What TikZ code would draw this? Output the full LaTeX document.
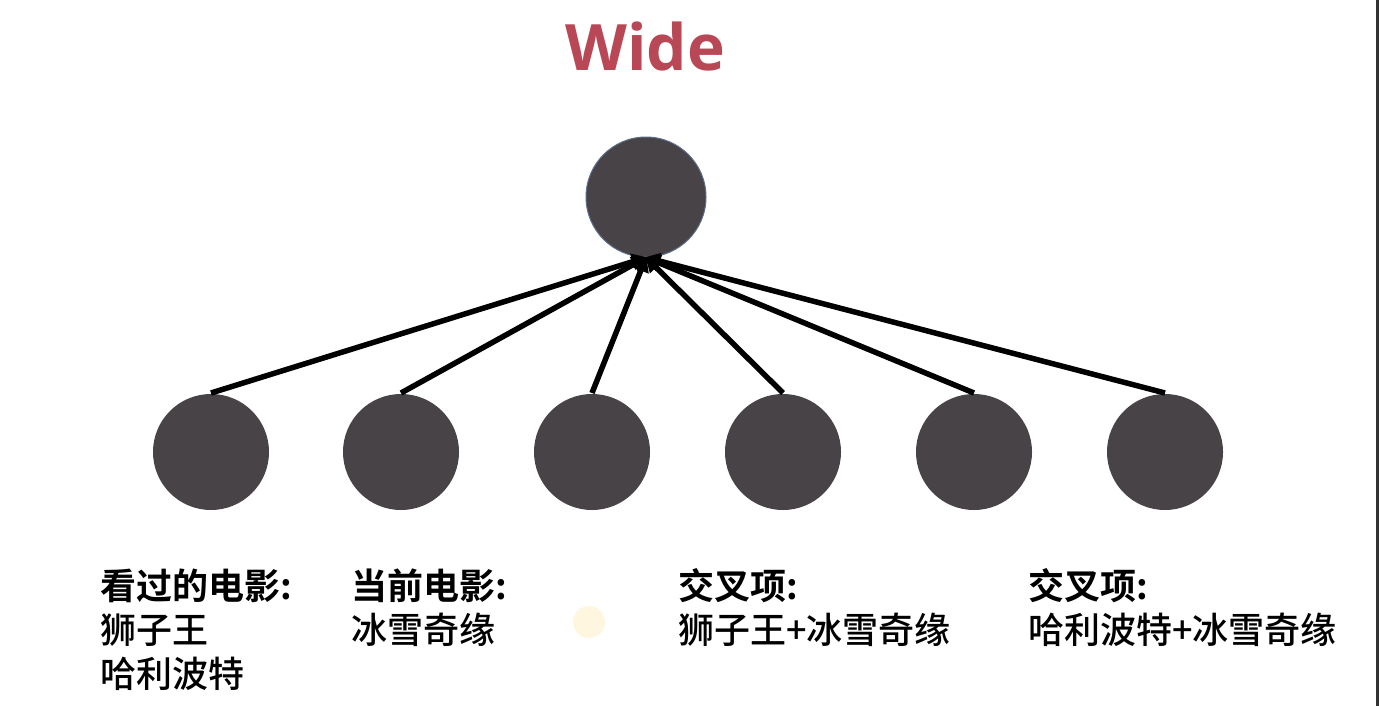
\documentclass[tikz,border=0pt]{standalone}
\usepackage{fontspec}
\setmainfont{Open Sans}
\newfontfamily\cjk{Noto Sans CJK SC}[UprightFont=* Medium, BoldFont=* Bold]
\usetikzlibrary{arrows.meta}
\definecolor{titlered}{RGB}{185,72,86}
\definecolor{ballfill}{RGB}{71,67,70}
\definecolor{ballrim}{RGB}{95,110,140}
\definecolor{paleyellow}{RGB}{254,246,222}
\definecolor{edgegray}{RGB}{50,50,50}
\tikzset{
  ball/.style={circle, fill=ballfill, minimum size=116pt, inner sep=0pt},
  topball/.style={circle, fill=ballfill, draw=ballrim, line width=1pt, minimum size=120pt, inner sep=0pt},
  link/.style={line width=5.5pt, black, -{Triangle[length=15pt,width=16pt]}, shorten >=-1pt},
  label/.style={anchor=base west, inner sep=0pt, font=\cjk\fontsize{36}{42}\selectfont},
  labelhead/.style={label, font=\cjk\bfseries\fontsize{36}{42}\selectfont},
}
\begin{document}
\begin{tikzpicture}[x=1pt,y=-1pt]
\useasboundingbox (0,0) rectangle (1380,706);
\fill[white] (0,0) rectangle (1380,706);
\draw[edgegray, line width=3pt] (1377.5,0) -- (1377.5,706);
\node[anchor=base, inner sep=0pt, text=titlered, font=\bfseries\fontsize{64}{70}\selectfont] (title) at (645,71) {Wide};
\node[topball] (top) at (646,197) {};
\foreach \i/\x in {1/211,2/401,3/592,4/783,5/974,6/1165}{
  \node[ball] (b\i) at (\x,452) {};
  \coordinate (s\i) at (\x,393);
}
\foreach \i in {1,...,6}{
  \draw[link] (s\i) -- (top.south);
}
\fill[paleyellow] (589,622) circle (16pt);
\node[labelhead] (l1a) at (100,599) {看过的电影:};
\node[label] (l1b) at (100,643) {狮子王};
\node[label] (l1c) at (100,687) {哈利波特};
\node[labelhead] (l2a) at (351,599) {当前电影:};
\node[label] (l2b) at (351,643) {冰雪奇缘};
\node[labelhead] (l3a) at (678,599) {交叉项:};
\node[label] (l3b) at (678,643) {狮子王+冰雪奇缘};
\node[labelhead] (l4a) at (1028,599) {交叉项:};
\node[label] (l4b) at (1028,643) {哈利波特+冰雪奇缘};
\end{tikzpicture}
\end{document}
